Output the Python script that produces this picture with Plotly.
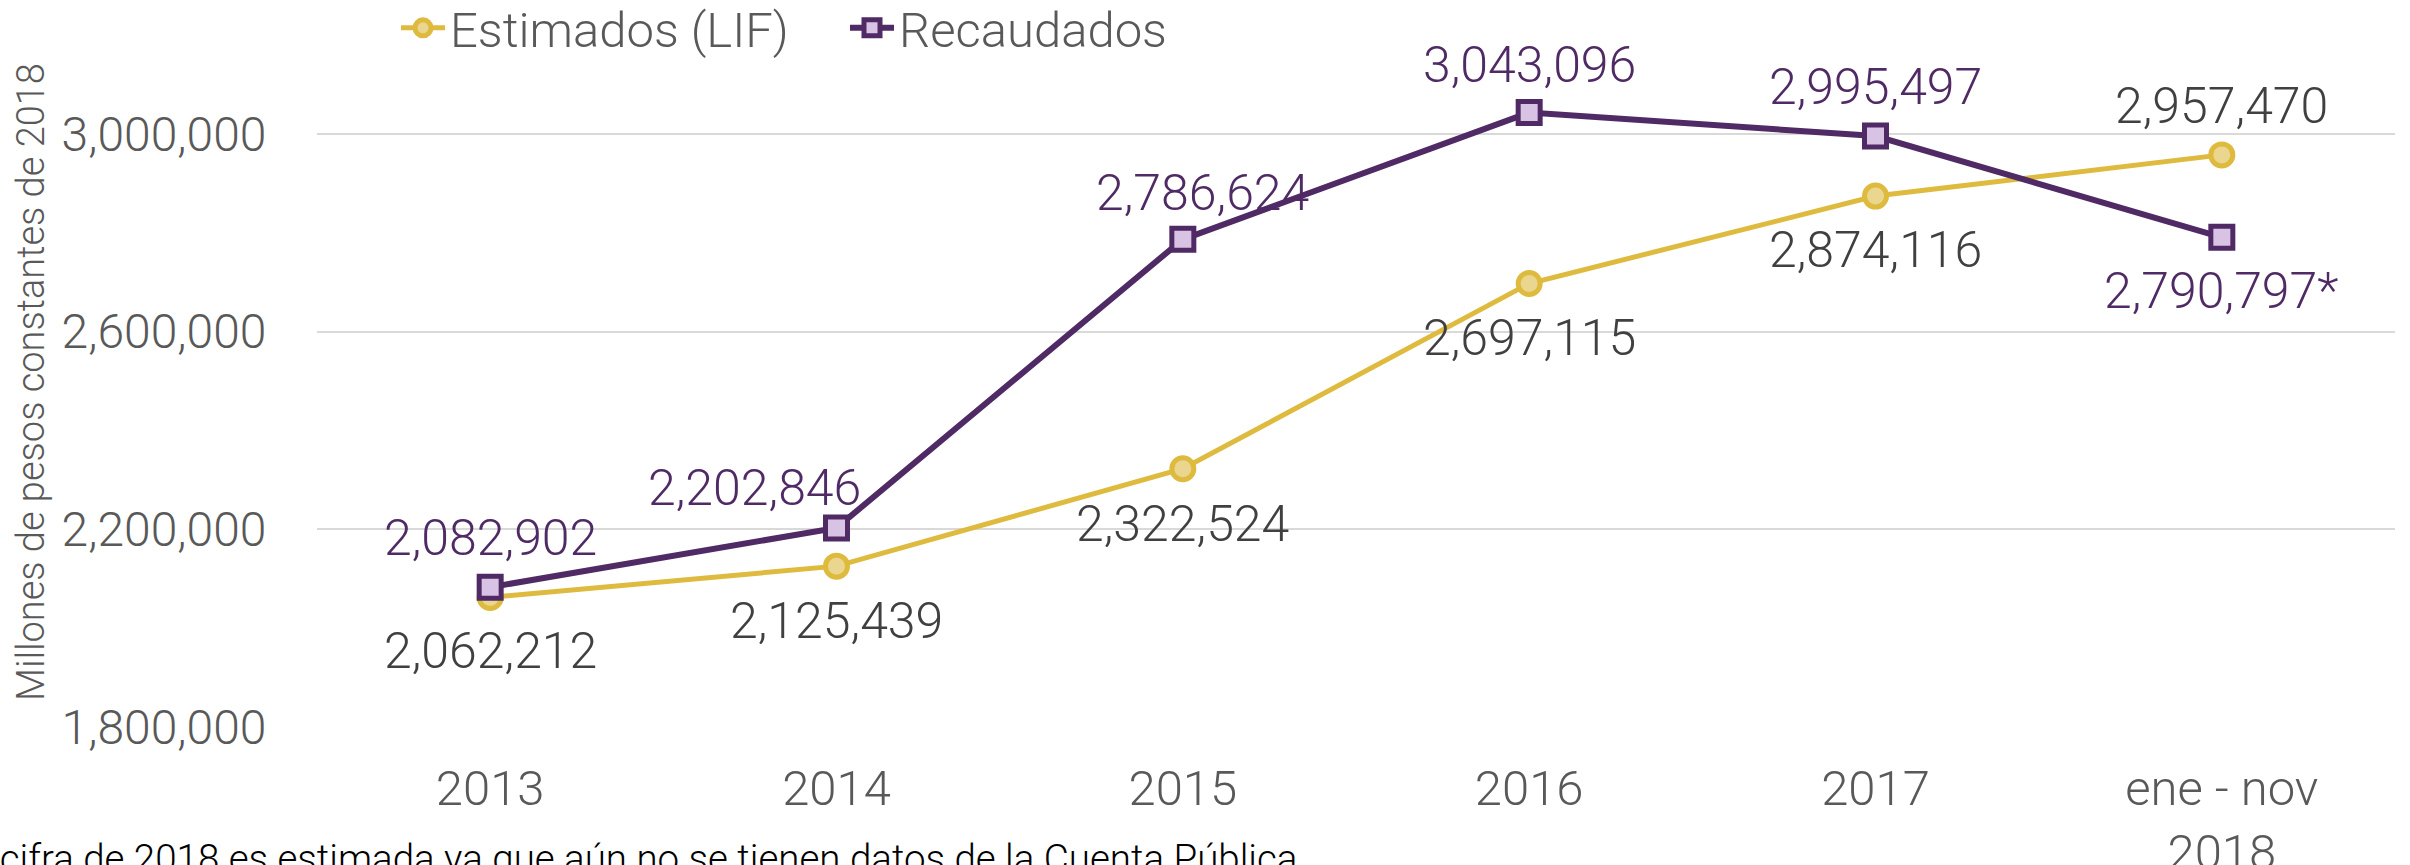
import plotly.graph_objects as go

categories = ["2013", "2014", "2015", "2016", "2017", "ene - nov<br>2018"]
estimados = [2062212, 2125439, 2322524, 2697115, 2874116, 2957470]
recaudados = [2082902, 2202846, 2786624, 3043096, 2995497, 2790797]
recaudados_labels = ["2,082,902", "2,202,846", "2,786,624", "3,043,096", "2,995,497", "2,790,797*"]
estimados_labels = ["2,062,212", "2,125,439", "2,322,524", "2,697,115", "2,874,116", "2,957,470"]
y_ticks = [1800000, 2200000, 2600000, 3000000]

GOLD = "#DEBB3E"
GOLD_FILL = "#EAD68E"
PURPLE = "#4F2A65"
PURPLE_FILL = "#D9C3E4"
GRAY_TEXT = "#595959"
DARK_TEXT = "#404040"
FONT = "Roboto"

W, H = 2410, 865
ML, MR, MT, MB = 317, 15, 35, 138
PW, PH = W - ML - MR, H - MT - MB
PB = H - MB  # plot bottom in px

fig = go.Figure()
fig.add_trace(go.Scatter(
    x=categories, y=estimados, name="Estimados (LIF)", mode="lines+markers",
    line=dict(color=GOLD, width=5),
    marker=dict(symbol="circle", size=22, color=GOLD_FILL, line=dict(color=GOLD, width=5)),
    hoverinfo="skip",
))
fig.add_trace(go.Scatter(
    x=categories, y=recaudados, name="Recaudados", mode="lines+markers",
    line=dict(color=PURPLE, width=6),
    marker=dict(symbol="square", size=22, color=PURPLE_FILL, line=dict(color=PURPLE, width=5)),
    hoverinfo="skip",
))

# data labels (x given as category index on the category axis)
est_shift = [-54, -55, -55, -54, -54, 49]
rec_shift = [49, 40, 46, 48, 49, -54]
rec_xshift = [0, -82, 20, 0, 0, 0]
annotations = []
for i, (v, t, s) in enumerate(zip(estimados, estimados_labels, est_shift)):
    annotations.append(dict(x=i, y=v, xref="x", yref="y", text=t, showarrow=False, yshift=s,
                            font=dict(family=FONT, size=50, color=DARK_TEXT, weight=300),
                            xanchor="center", yanchor="middle"))
for i, (v, t, s, xs) in enumerate(zip(recaudados, recaudados_labels, rec_shift, rec_xshift)):
    annotations.append(dict(x=i, y=v, xref="x", yref="y", text=t, showarrow=False,
                            yshift=s, xshift=xs,
                            font=dict(family=FONT, size=50, color=PURPLE, weight=300),
                            xanchor="center", yanchor="middle"))

# y-axis title
annotations.append(dict(
    xref="paper", yref="paper", x=(31 - ML) / PW, y=(PB - 382) / PH,
    xanchor="center", yanchor="middle", showarrow=False, textangle=-90,
    text="Millones de pesos constantes de 2018",
    font=dict(family=FONT, size=38, color=GRAY_TEXT, weight=300),
))

# footnote (partly cut by the figure edges, as in the original)
annotations.append(dict(
    xref="paper", yref="paper", x=(1299 - ML) / PW, y=-(858 - PB) / PH,
    xanchor="right", yanchor="middle", showarrow=False,
    text="*La cifra de 2018 es estimada ya que aún no se tienen datos de la Cuenta Pública",
    font=dict(family=FONT, size=38.5, color="#000000", weight=300),
))

fig.update_layout(
    width=W, height=H,
    margin=dict(l=ML, r=MR, t=MT, b=MB, autoexpand=False),
    paper_bgcolor="white", plot_bgcolor="white",
    font=dict(family=FONT, size=46, color=GRAY_TEXT, weight=300),
    showlegend=True,
    legend=dict(orientation="h", xref="paper", yref="paper",
                x=(396 - ML) / PW, xanchor="left",
                y=1 + (MT - 28) / PH, yanchor="middle",
                itemwidth=44, entrywidth=390,
                font=dict(family=FONT, size=49, color=GRAY_TEXT, weight=300),
                bgcolor="rgba(0,0,0,0)", itemsizing="trace"),
    annotations=annotations,
    xaxis=dict(
        type="category", range=[-0.5, 5.5], showgrid=False, zeroline=False,
        showline=False, ticks="outside", ticklen=18, tickcolor="rgba(0,0,0,0)",
        automargin=False,
        tickfont=dict(family=FONT, size=49, color=GRAY_TEXT, weight=300),
    ),
    yaxis=dict(
        range=[1800000, 3200000], tickvals=y_ticks, tickformat=",d",
        showgrid=True, gridcolor="#D9D9D9", gridwidth=2, zeroline=False, showline=False,
        ticks="outside", ticklen=40, tickcolor="rgba(0,0,0,0)", automargin=False,
        tickfont=dict(family=FONT, size=48, color=GRAY_TEXT, weight=300),
    ),
)

fig.write_html("out.html", config={"displayModeBar": False},
               post_script="document.body.style.margin='0';")
